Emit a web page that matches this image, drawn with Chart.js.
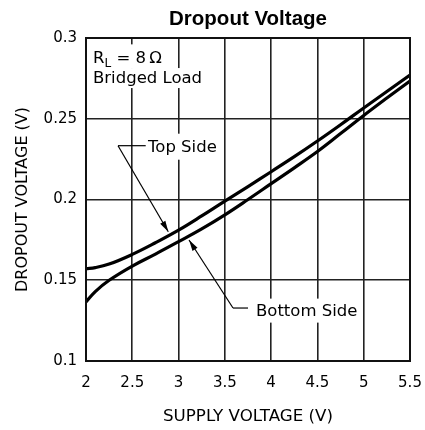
<!DOCTYPE html>
<html>
<head>
<meta charset="utf-8">
<script src="https://cdn.jsdelivr.net/npm/chart.js@4/dist/chart.umd.min.js"></script>
<style>
html,body{margin:0;padding:0;background:#fff;}
#c{display:block;}
</style>
</head>
<body>
<canvas id="c" width="425" height="430"></canvas>
<script>
// ---- data ----
const supplyVoltage = [2, 2.1, 2.25, 2.5, 2.75, 3, 3.25, 3.5, 3.75, 4, 4.25, 4.5, 4.75, 5, 5.25, 5.5];
const topSide    = [0.1572, 0.1578, 0.1600, 0.1660, 0.1732, 0.1810, 0.1898, 0.1990, 0.2080, 0.2172, 0.2265, 0.2362, 0.2463, 0.2567, 0.2669, 0.2771];
const bottomSide = [0.1365, 0.1430, 0.1500, 0.1588, 0.1662, 0.1739, 0.1818, 0.1905, 0.2000, 0.2098, 0.2196, 0.2297, 0.2408, 0.2520, 0.2628, 0.2734];
const xTickLabels = ['2', '2.5', '3', '3.5', '4', '4.5', '5', '5.5'];
const yTickLabels = ['0.1', '0.15', '0.2', '0.25', '0.3'];
const chartTitle = 'Dropout Voltage';
const xTitle = 'SUPPLY VOLTAGE (V)';
const yTitle = 'DROPOUT VOLTAGE (V)';
const seriesNames = ['Top Side', 'Bottom Side'];
const noteLine1 = ['R', 'L', ' = 8\u2009\u03A9'];
const noteLine2 = 'Bridged Load';

const FONT = '"DejaVu Sans", sans-serif';
const ANN = '16.5px ' + FONT;

const annotations = {
  id: 'annotations',
  beforeDatasetsDraw(chart) {
    const ctx = chart.ctx;
    const xs = chart.scales.x, ys = chart.scales.y;
    const X = v => xs.getPixelForValue(v), Y = v => ys.getPixelForValue(v);
    ctx.save();
    ctx.font = ANN;
    ctx.textBaseline = 'middle';
    ctx.textAlign = 'left';

    function label(text, x, y, padX, padY) {
      const w = ctx.measureText(text).width;
      ctx.fillStyle = '#fff';
      ctx.fillRect(x - padX, y - padY, w + 2 * padX, 2 * padY);
      ctx.fillStyle = '#000';
      ctx.fillText(text, x, y + 1);
    }
    function arrow(x1, y1, x2, y2) {
      ctx.strokeStyle = '#000';
      ctx.lineWidth = 1.2;
      ctx.beginPath(); ctx.moveTo(x1, y1); ctx.lineTo(x2, y2); ctx.stroke();
      const a = Math.atan2(y2 - y1, x2 - x1);
      const L = 11, H = 3;
      ctx.fillStyle = '#000';
      ctx.beginPath();
      ctx.moveTo(x2, y2);
      ctx.lineTo(x2 - L * Math.cos(a) + H * Math.sin(a), y2 - L * Math.sin(a) - H * Math.cos(a));
      ctx.lineTo(x2 - L * Math.cos(a) - H * Math.sin(a), y2 - L * Math.sin(a) + H * Math.cos(a));
      ctx.closePath(); ctx.fill();
    }

    // R_L = 8 Ohm / Bridged Load
    const nx = X(2) + 7;
    const ny1 = Y(0.2880), ny2 = Y(0.2752);
    ctx.fillStyle = '#fff';
    ctx.fillRect(nx - 4, ny1 - 13, 80, 24);
    label(noteLine2, nx, ny2, 4, 10);
    ctx.fillStyle = '#000';
    ctx.fillText(noteLine1[0], nx, ny1 + 1);
    let w = ctx.measureText(noteLine1[0]).width;
    ctx.font = '12px ' + FONT;
    ctx.fillText(noteLine1[1], nx + w, ny1 + 6);
    w += ctx.measureText(noteLine1[1]).width;
    ctx.font = ANN;
    ctx.fillText(noteLine1[2], nx + w, ny1 + 1);

    // Top Side
    const tY = Y(0.2327);
    label(seriesNames[0], X(2.67), tY, 5, 13);
    ctx.strokeStyle = '#000'; ctx.lineWidth = 1.2;
    ctx.beginPath(); ctx.moveTo(X(2.346), tY - 1); ctx.lineTo(X(2.645), tY - 1); ctx.stroke();
    arrow(X(2.346), tY - 1, X(2.889), Y(0.180));

    // Bottom Side
    const bY = Y(0.1328);
    label(seriesNames[1], X(3.836), Y(0.1312), 5, 12);
    ctx.beginPath(); ctx.moveTo(X(3.588), bY); ctx.lineTo(X(3.75), bY); ctx.stroke();
    arrow(X(3.588), bY, X(3.113), Y(0.1749));

    ctx.restore();
  },
  afterDraw(chart) {
    const ctx = chart.ctx, a = chart.chartArea;
    ctx.save();
    ctx.strokeStyle = '#111';
    ctx.lineWidth = 2;
    ctx.strokeRect(a.left, a.top, a.right - a.left, a.bottom - a.top);
    ctx.font = 'bold 20.5px "Liberation Sans", Arial, sans-serif';
    ctx.fillStyle = '#000';
    ctx.textAlign = 'center';
    ctx.textBaseline = 'middle';
    ctx.fillText(chartTitle, (a.left + a.right) / 2, 19);
    ctx.restore();
  }
};

new Chart(document.getElementById('c'), {
  type: 'line',
  data: {
    datasets: [
      { label: seriesNames[0], data: supplyVoltage.map((x, i) => ({x, y: topSide[i]})),
        borderColor: '#000', borderWidth: 3.2, pointRadius: 0, tension: 0.4, fill: false },
      { label: seriesNames[1], data: supplyVoltage.map((x, i) => ({x, y: bottomSide[i]})),
        borderColor: '#000', borderWidth: 3.2, pointRadius: 0, tension: 0.4, fill: false }
    ]
  },
  options: {
    responsive: false,
    animation: false,
    devicePixelRatio: 1,
    layout: { padding: { top: 38, right: 15, left: 0, bottom: 0 } },
    plugins: { legend: { display: false }, title: { display: false }, tooltip: { enabled: false } },
    scales: {
      x: {
        type: 'linear', min: 2, max: 5.5,
        afterFit: s => { s.height = 69; s.paddingLeft = 0; s.paddingRight = 0; },
        afterBuildTicks: s => { s.ticks = xTickLabels.map(t => ({ value: parseFloat(t) })); },
        grid: { color: '#222', lineWidth: 1.6, drawTicks: false },
        border: { display: false },
        ticks: { color: '#000', padding: 13, font: { family: FONT, size: 15 }, maxRotation: 0,
                 callback: (v, i) => xTickLabels[i] },
        title: { display: true, text: xTitle, color: '#000', font: { family: FONT, size: 16.7 },
                 padding: { top: 0, bottom: 3 } }
      },
      y: {
        type: 'linear', min: 0.1, max: 0.3,
        afterFit: s => { s.width = 86; s.paddingTop = 0; s.paddingBottom = 0; },
        afterBuildTicks: s => { s.ticks = yTickLabels.map(t => ({ value: parseFloat(t) })); },
        grid: { color: '#222', lineWidth: 1.6, drawTicks: false },
        border: { display: false },
        ticks: { color: '#000', padding: 9, font: { family: FONT, size: 15 },
                 callback: (v, i) => yTickLabels[i] },
        title: { display: true, text: yTitle, color: '#000', font: { family: FONT, size: 16 },
                 padding: { top: 13.4, bottom: 0 } }
      }
    }
  },
  plugins: [annotations]
});
</script>
</body>
</html>
